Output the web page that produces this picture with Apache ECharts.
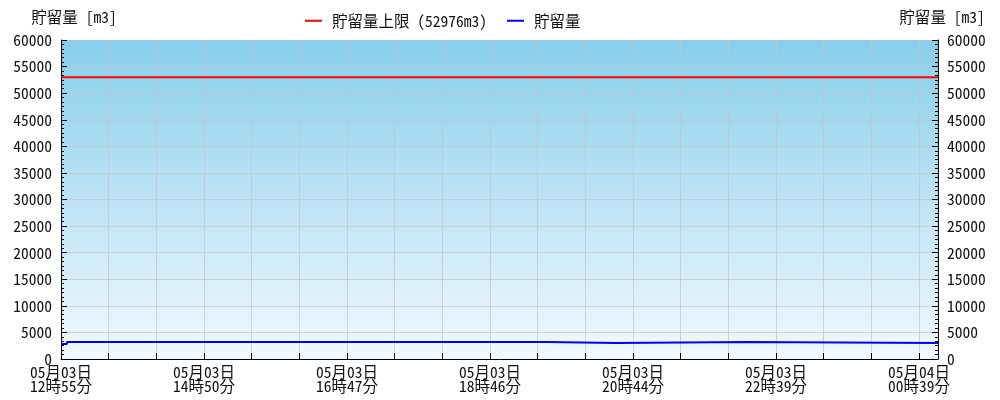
<!DOCTYPE html>
<html>
<head>
<meta charset="utf-8">
<script src="https://cdn.jsdelivr.net/npm/echarts@6/dist/echarts.min.js"></script>
<style>
html,body{margin:0;padding:0;background:#fff;}
#c{width:1000px;height:400px;}
</style>
</head>
<body>
<div id="c"></div>
<script>
// x positions are sample indices, labelled every 120 samples
const xTickLabels = ['05月03日\n12時55分', '05月03日\n14時50分', '05月03日\n16時47分', '05月03日\n18時46分', '05月03日\n20時44分', '05月03日\n22時39分', '05月04日\n00時39分'];
const lastIndex = 736;
const limitValue = 52976;
// storage volume samples (index, m3) — step changes listed explicitly
const storageIndex = [0, 5, 5, 408, 408, 466, 466, 576, 576, 736];
const storageValue = [2820, 2820, 3200, 3200, 3010, 3010, 3200, 3200, 3010, 3010];
const yTicks = [0, 60000, 5000];

const FONT = '"Noto Sans Mono CJK JP", "DejaVu Sans Mono", "Noto Sans CJK JP", monospace';
const FS = 15.5;
const storageData = storageIndex.map((x, i) => [x, storageValue[i]]);
const limitData = [[0, limitValue], [lastIndex, limitValue]];
const GRID_COLOR = 'rgba(195,195,195,0.7)';

const yAxisCommon = {
  type: 'value', min: yTicks[0], max: yTicks[1], interval: yTicks[2],
  name: '貯留量 [m3]', nameLocation: 'end', nameGap: 15,
  axisLine: {show: true, lineStyle: {color: '#000', width: 1}},
  axisTick: {show: true, inside: true, length: 6, lineStyle: {color: '#000'}},
  minorTick: {show: true, splitNumber: 6, length: 3, lineStyle: {color: '#000'}},
  splitLine: {show: true, lineStyle: {color: GRID_COLOR, width: 1}},
  axisLabel: {color: '#111', fontFamily: FONT, fontSize: FS, margin: 9,
    formatter: function (v) { return String(v); }},
};

const chart = echarts.init(document.getElementById('c'), null, {renderer: 'canvas'});
chart.setOption({
  animation: false,
  backgroundColor: '#fff',
  textStyle: {fontFamily: FONT},
  legend: {
    left: 300, top: 8, icon: 'rect', itemWidth: 17, itemHeight: 2, itemGap: 20,
    textStyle: {fontFamily: FONT, fontSize: FS, color: '#111', padding: [0, 0, 0, 5]},
    data: ['貯留量上限 (52976m3)', '貯留量']
  },
  grid: {
    left: 61, right: 62, top: 40, bottom: 41, show: true, borderWidth: 0,
    backgroundColor: new echarts.graphic.LinearGradient(0, 0, 0, 1, [
      {offset: 0, color: '#87CEEB'}, {offset: 1, color: '#F2F9FF'}
    ])
  },
  xAxis: {
    type: 'value', min: 0, max: lastIndex, interval: 40,
    axisLine: {show: true, onZero: false, lineStyle: {color: '#000', width: 1}},
    axisTick: {show: true, inside: true, length: 6, lineStyle: {color: '#000'}},
    splitLine: {show: true, lineStyle: {color: GRID_COLOR, width: 1}},
    axisLabel: {
      color: '#111', fontFamily: FONT, fontSize: FS, lineHeight: 14, margin: 6,
      showMaxLabel: false,
      formatter: function (v) {
        const k = v / 120;
        return (Number.isInteger(k) && k < xTickLabels.length) ? xTickLabels[k] : '';
      }
    }
  },
  yAxis: [
    Object.assign({}, yAxisCommon, {position: 'left',
      nameTextStyle: {fontFamily: FONT, fontSize: FS, color: '#111', align: 'center', padding: [0, 0, 0, 26]}}),
    Object.assign({}, yAxisCommon, {position: 'right', splitLine: {show: false},
      nameTextStyle: {fontFamily: FONT, fontSize: FS, color: '#111', align: 'center', padding: [0, 0, 0, 8]}})
  ],
  series: [
    {name: '貯留量上限 (52976m3)', type: 'line', data: limitData, symbol: 'none',
     lineStyle: {color: '#ff0000', width: 2}, itemStyle: {color: '#ff0000'}},
    {name: '貯留量', type: 'line', data: storageData, symbol: 'none',
     lineStyle: {color: '#0000ff', width: 2}, itemStyle: {color: '#0000ff'}}
  ]
});
</script>
</body>
</html>
